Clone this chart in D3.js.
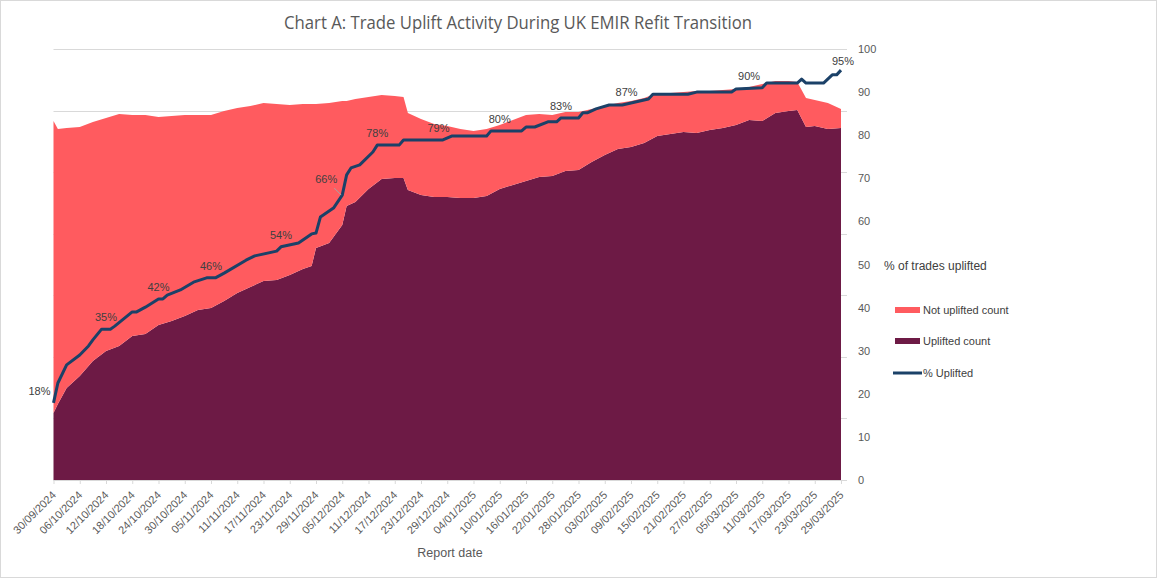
<!DOCTYPE html>
<html>
<head>
<meta charset="utf-8">
<script src="https://cdn.jsdelivr.net/npm/d3@7"></script>
<style>
  body { margin: 0; background: #fff; }
  text { font-family: "Liberation Sans", Arial, sans-serif; }
</style>
</head>
<body>
<svg id="chart" width="1157" height="578"></svg>
<script>
// report dates used by the two stacked areas (counts in thousands of trades)
const areaDates = [
  '2024-09-30', '2024-10-01', '2024-10-03', '2024-10-06', '2024-10-09', '2024-10-12', '2024-10-15', '2024-10-18',
  '2024-10-21', '2024-10-24', '2024-10-27', '2024-10-30', '2024-11-02', '2024-11-05', '2024-11-08', '2024-11-11',
  '2024-11-14', '2024-11-17', '2024-11-20', '2024-11-23', '2024-11-26', '2024-11-28', '2024-11-29', '2024-12-02',
  '2024-12-05', '2024-12-06', '2024-12-08', '2024-12-11', '2024-12-14', '2024-12-17', '2024-12-19', '2024-12-20',
  '2024-12-23', '2024-12-26', '2024-12-29', '2025-01-01', '2025-01-04', '2025-01-07', '2025-01-10', '2025-01-13',
  '2025-01-16', '2025-01-19', '2025-01-22', '2025-01-25', '2025-01-28', '2025-01-31', '2025-02-03', '2025-02-06',
  '2025-02-09', '2025-02-12', '2025-02-15', '2025-02-18', '2025-02-21', '2025-02-24', '2025-02-27', '2025-03-02',
  '2025-03-05', '2025-03-08', '2025-03-11', '2025-03-14', '2025-03-17', '2025-03-19', '2025-03-21', '2025-03-23',
  '2025-03-26', '2025-03-29'
];
const upliftedCount = [
  54.4, 61.7, 74.7, 84.5, 96.6, 104.8, 108.8, 116.9,
  118.6, 125.9, 129.1, 133.2, 138.1, 139.7, 145.4, 151.9,
  156.7, 161.6, 162.4, 166.5, 171.4, 173.8, 188.4, 192.5,
  207.1, 222.5, 225.8, 236.3, 244.4, 245.3, 245.3, 235.5,
  231.4, 229.8, 229.8, 229.0, 229.0, 230.6, 236.3, 239.6,
  242.8, 246.1, 246.9, 250.9, 251.7, 258.2, 263.9, 268.8,
  270.4, 273.7, 279.4, 281.0, 282.6, 281.8, 284.2, 285.9,
  288.3, 292.4, 291.5, 298.0, 299.7, 300.5, 286.7, 287.5,
  285.0, 285.9
];
const notUpliftedCount = [
  237.1, 223.3, 211.1, 202.2, 194.1, 189.2, 188.4, 179.5,
  177.8, 168.9, 166.5, 163.2, 158.4, 156.7, 154.3, 150.2,
  147.0, 144.6, 142.9, 138.1, 134.0, 131.6, 116.9, 113.7,
  100.7, 85.3, 83.6, 74.7, 68.2, 66.6, 65.8, 62.5,
  61.7, 59.3, 57.7, 56.0, 54.4, 54.4, 52.0, 52.8,
  53.6, 51.2, 49.5, 47.9, 47.1, 43.0, 39.8, 37.4,
  37.4, 36.5, 34.9, 33.3, 32.5, 34.1, 31.7, 30.9,
  29.2, 26.8, 30.0, 26.0, 24.4, 22.7, 23.6, 21.1,
  21.1, 15.4
];

// % uplifted line (right axis)
const pctDates = [
  '2024-09-30', '2024-10-01', '2024-10-03', '2024-10-06', '2024-10-08', '2024-10-09', '2024-10-11', '2024-10-13',
  '2024-10-14', '2024-10-18', '2024-10-19', '2024-10-21', '2024-10-24', '2024-10-25', '2024-10-26', '2024-10-29',
  '2024-11-01', '2024-11-04', '2024-11-06', '2024-11-08', '2024-11-13', '2024-11-15', '2024-11-20', '2024-11-21',
  '2024-11-25', '2024-11-28', '2024-11-29', '2024-11-30', '2024-12-03', '2024-12-05', '2024-12-06', '2024-12-07',
  '2024-12-09', '2024-12-12', '2024-12-13', '2024-12-18', '2024-12-19', '2024-12-28', '2024-12-30', '2025-01-07',
  '2025-01-08', '2025-01-15', '2025-01-16', '2025-01-18', '2025-01-21', '2025-01-23', '2025-01-24', '2025-01-28',
  '2025-01-29', '2025-01-30', '2025-02-01', '2025-02-04', '2025-02-07', '2025-02-10', '2025-02-13', '2025-02-14',
  '2025-02-22', '2025-02-24', '2025-03-04', '2025-03-05', '2025-03-11', '2025-03-12', '2025-03-19', '2025-03-20',
  '2025-03-21', '2025-03-25', '2025-03-27', '2025-03-28', '2025-03-29'
];
const pctUplifted = [
  17.9, 22.5, 26.7, 29.0, 31.1, 32.5, 35.0, 35.0,
  35.7, 39.0, 39.0, 40.1, 42.0, 42.0, 42.9, 44.1,
  45.9, 46.9, 46.9, 48.0, 51.0, 52.0, 53.1, 54.1,
  55.0, 57.1, 57.3, 61.0, 63.1, 66.1, 70.8, 72.4,
  73.1, 76.1, 77.7, 77.7, 78.9, 78.9, 79.8, 79.8,
  81.0, 81.0, 81.9, 81.9, 83.1, 83.1, 84.0, 84.0,
  85.2, 85.2, 86.1, 87.0, 87.0, 87.7, 88.4, 89.5,
  89.5, 90.0, 90.0, 90.7, 91.0, 92.1, 92.1, 93.0,
  92.1, 92.1, 94.0, 94.0, 95.1
];

// data labels shown on the % line
const pctLabelDates = [
  '2024-09-30', '2024-10-12', '2024-10-24', '2024-11-05', '2024-11-21', '2024-12-05', '2024-12-13',
  '2024-12-27', '2025-01-10', '2025-01-24', '2025-02-08', '2025-03-08', '2025-03-29'
];
const pctLabelTexts = ['18%', '35%', '42%', '46%', '54%', '66%', '78%', '79%', '80%', '83%', '87%', '90%', '95%'];

const tickDates = [
  '2024-09-30', '2024-10-06', '2024-10-12', '2024-10-18', '2024-10-24', '2024-10-30', '2024-11-05', '2024-11-11',
  '2024-11-17', '2024-11-23', '2024-11-29', '2024-12-05', '2024-12-11', '2024-12-17', '2024-12-23', '2024-12-29',
  '2025-01-04', '2025-01-10', '2025-01-16', '2025-01-22', '2025-01-28', '2025-02-03', '2025-02-09', '2025-02-15',
  '2025-02-21', '2025-02-27', '2025-03-05', '2025-03-11', '2025-03-17', '2025-03-23', '2025-03-29'
];
const pctTicks = [0, 10, 20, 30, 40, 50, 60, 70, 80, 90, 100];

const parse = d3.timeParse('%Y-%m-%d');
const fmt = d3.timeFormat('%d/%m/%Y');

const W = 1157, H = 578;
const plot = { left: 53.5, right: 841, gridRight: 847, top: 49, bottom: 480 };
const COLORS = { notUplifted: '#FF5B5F', uplifted: '#6D1A45', line: '#1B4168', grid: '#D9D9D9', axisText: '#595959', label: '#404040' };

const svg = d3.select('#chart');
svg.append('rect').attr('x', 0.5).attr('y', 0.5).attr('width', W - 1).attr('height', H - 1)
  .attr('fill', '#fff').attr('stroke', COLORS.grid);

const x = d3.scaleTime()
  .domain([parse(areaDates[0]), parse(areaDates[areaDates.length - 1])])
  .range([plot.left, plot.right]);
const yCount = d3.scaleLinear().domain([0, 350]).range([plot.bottom, plot.top]);
const yPct = d3.scaleLinear().domain([0, 100]).range([plot.bottom, plot.top]);

// gridlines from the (hidden) count axis
svg.append('g').selectAll('line')
  .data(yCount.ticks(7))
  .enter().append('line')
  .attr('x1', plot.left).attr('x2', plot.gridRight)
  .attr('y1', d => Math.round(yCount(d)) + 0.5).attr('y2', d => Math.round(yCount(d)) + 0.5)
  .attr('stroke', COLORS.grid).attr('stroke-width', 1);

// stacked areas
const rows = areaDates.map((d, i) => ({ date: parse(d), uplifted: upliftedCount[i], notUplifted: notUpliftedCount[i] }));
const series = d3.stack().keys(['uplifted', 'notUplifted'])(rows);
const area = d3.area()
  .x(d => x(d.data.date))
  .y0(d => yCount(d[0]))
  .y1(d => yCount(d[1]));
svg.append('g').selectAll('path')
  .data(series)
  .enter().append('path')
  .attr('d', area)
  .attr('fill', d => COLORS[d.key]);

// bottom axis
const xAxis = svg.append('g')
  .attr('transform', `translate(0,${plot.bottom})`)
  .call(d3.axisBottom(x).tickValues(tickDates.map(parse)).tickFormat(fmt).tickSize(4).tickSizeOuter(0));
xAxis.select('.domain').remove();
xAxis.selectAll('.tick line').attr('stroke', COLORS.grid);
xAxis.selectAll('.tick text')
  .attr('fill', COLORS.axisText)
  .attr('font-size', 11)
  .attr('text-anchor', 'end')
  .attr('x', 0).attr('y', 0).attr('dy', '0.35em')
  .attr('transform', 'translate(0,13) rotate(-45)');
svg.append('line')
  .attr('x1', plot.left).attr('x2', plot.gridRight)
  .attr('y1', plot.bottom + 0.5).attr('y2', plot.bottom + 0.5)
  .attr('stroke', COLORS.grid);

// right % axis
const yAxis = svg.append('g')
  .attr('transform', `translate(${plot.gridRight},0)`)
  .call(d3.axisRight(yPct).tickValues(pctTicks).tickSize(0).tickPadding(11));
yAxis.select('.domain').remove();
yAxis.selectAll('.tick text').attr('fill', COLORS.axisText).attr('font-size', 11);

// % uplifted line
const pctRows = pctDates.map((d, i) => ({ date: parse(d), value: pctUplifted[i] }));
const line = d3.line().x(d => x(d.date)).y(d => yPct(d.value));
svg.append('path')
  .datum(pctRows)
  .attr('d', line)
  .attr('fill', 'none')
  .attr('stroke', COLORS.line)
  .attr('stroke-width', 3)
  .attr('stroke-linejoin', 'round');

// data labels
const bisect = d3.bisector(d => d.date).left;
function pctAt(date) {
  const i = bisect(pctRows, date);
  if (i <= 0) return pctRows[0].value;
  if (i >= pctRows.length) return pctRows[pctRows.length - 1].value;
  const a = pctRows[i - 1], b = pctRows[i];
  const t = (date - a.date) / (b.date - a.date);
  return a.value + (b.value - a.value) * t;
}
const labelG = svg.append('g');
pctLabelDates.forEach((ds, i) => {
  const date = parse(ds);
  const px = x(date), py = yPct(pctAt(date));
  let dx = 0, dy = -12, anchor = 'middle';
  if (i === 0) { dx = -3; dy = -12; anchor = 'end'; }
  if (i === pctLabelDates.length - 1) { dy = -9; dx = 2; }
  if (pctLabelTexts[i] === '66%') {
    dx = -16; dy = -16;
    labelG.append('line')
      .attr('x1', px - 8).attr('y1', py - 7).attr('x2', px - 1).attr('y2', py)
      .attr('stroke', '#A6A6A6').attr('stroke-width', 1);
  }
  labelG.append('text')
    .attr('x', px + dx).attr('y', py + dy)
    .attr('dy', '0.35em')
    .attr('text-anchor', anchor)
    .attr('font-size', 11)
    .attr('fill', COLORS.label)
    .text(pctLabelTexts[i]);
});

// title and axis title
svg.append('text')
  .attr('x', 518).attr('y', 29)
  .attr('text-anchor', 'middle')
  .attr('font-size', 19)
  .attr('fill', COLORS.axisText)
  .style('font-family', '"Open Sans", "Noto Sans", sans-serif')
  .attr('textLength', 468).attr('lengthAdjust', 'spacingAndGlyphs')
  .text('Chart A: Trade Uplift Activity During UK EMIR Refit Transition');

svg.append('text')
  .attr('x', 450).attr('y', 557)
  .attr('text-anchor', 'middle')
  .attr('font-size', 12.5)
  .attr('fill', COLORS.axisText)
  .text('Report date');

// legend
const legend = svg.append('g');
legend.append('text')
  .attr('x', 884).attr('y', 270)
  .attr('font-size', 12)
  .attr('fill', COLORS.label)
  .text('% of trades uplifted');
const legendItems = [
  { key: 'notUplifted', label: 'Not uplifted count', type: 'area' },
  { key: 'uplifted', label: 'Uplifted count', type: 'area' },
  { key: 'line', label: '% Uplifted', type: 'line' }
];
legendItems.forEach((item, i) => {
  const cy = 310 + i * 31;
  if (item.type === 'area') {
    legend.append('rect').attr('x', 895).attr('y', cy - 3).attr('width', 25).attr('height', 6).attr('fill', COLORS[item.key]);
  } else {
    legend.append('line').attr('x1', 893).attr('x2', 922).attr('y1', cy + 1).attr('y2', cy + 1)
      .attr('stroke', COLORS.line).attr('stroke-width', 3);
  }
  legend.append('text')
    .attr('x', 923).attr('y', cy + (item.type === 'line' ? 1 : 0))
    .attr('dy', '0.35em')
    .attr('font-size', 11)
    .attr('fill', COLORS.label)
    .text(item.label);
});
</script>
</body>
</html>
